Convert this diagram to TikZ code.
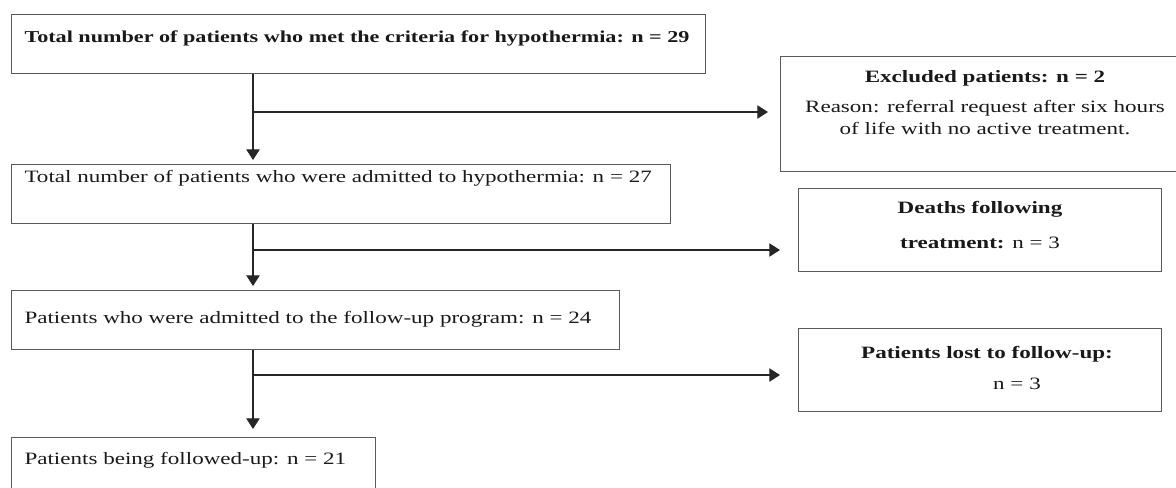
\documentclass[tikz,border=0pt]{standalone}
\usepackage{fontspec}
\setmainfont{Liberation Serif}[FakeStretch=1.33]
\usetikzlibrary{arrows.meta}
\tikzset{every picture/.style={line width=0.75pt}}
\tikzset{
  box/.style={draw=black!65, line width=0.75pt, inner sep=0pt, anchor=north west},
  txt/.style={inner sep=0pt, text=black!90, font=\fontsize{13}{16.5}\selectfont},
  arr/.style={draw=black!85, line width=0.9pt, -{Triangle[length=8pt,width=10pt]}}
}

\begin{document}
\begin{tikzpicture}[x=0.75pt,y=0.75pt,yscale=-1,xscale=1]
%set diagram to 1176 x 487
\clip (0,0) rectangle (1176,487);

%Shape: Rectangle [criteria]
\node[box, minimum width=520.5pt, minimum height=44.25pt] (crit) at (11,14) {};
%Shape: Rectangle [admitted]
\node[box, minimum width=494.25pt, minimum height=44.25pt] (adm) at (11,164) {};
%Shape: Rectangle [follow-up program]
\node[box, minimum width=456pt, minimum height=44.25pt] (fup) at (11,290) {};
%Shape: Rectangle [followed-up]
\node[box, minimum width=273pt, minimum height=52.5pt] (flw) at (11,437) {};
%Shape: Rectangle [excluded]
\node[box, minimum width=315pt, minimum height=86.25pt] (excl) at (780,56) {};
%Shape: Rectangle [deaths]
\node[box, minimum width=272.25pt, minimum height=62.25pt] (death) at (798,188) {};
%Shape: Rectangle [lost]
\node[box, minimum width=272.25pt, minimum height=62.25pt] (lost) at (798,328) {};

%Junctions on the main line
\coordinate (j1) at (253,112);
\coordinate (j2) at (253,250);
\coordinate (j3) at (253,375);

%Straight Lines [main line]
\draw[arr, shorten >=3pt] (crit.south -| j1) -- (adm.north -| j1);
\draw[arr, shorten >=3pt] (adm.south -| j2) -- (fup.north -| j2);
\draw[arr, shorten >=6pt] (fup.south -| j3) -- (flw.north -| j3);
%Straight Lines [side branches]
\draw[arr, shorten >=9pt] (j1) -- (excl.west |- j1);
\draw[arr, shorten >=13.5pt] (j2) -- (death.west |- j2);
\draw[arr, shorten >=13.5pt] (j3) -- (lost.west |- j3);

% Text Node
\node[txt, anchor=base west, font=\fontsize{12.5}{16}\selectfont] (tcrit) at (24,42) {\textbf{Total number of patients who met the criteria for hypothermia: n = 29}};
% Text Node
\node[txt, anchor=base west] (tadm) at (24,182) {Total number of patients who were admitted to hypothermia: n = 27};
% Text Node
\node[txt, anchor=base west] (tfup) at (24,323) {Patients who were admitted to the follow-up program: n = 24};
% Text Node
\node[txt, anchor=base west] (tflw) at (24,464) {Patients being followed-up: n = 21};
% Text Node
\node[txt, anchor=base] (texcl) at (985,82) {\textbf{Excluded patients: n = 2}};
\node[txt, anchor=base] (treas) at (985,112) {Reason: referral request after six hours};
\node[txt, anchor=base] (treas2) at (985,134) {of life with no active treatment.};
% Text Node
\node[txt, anchor=base] (tdeath) at (980,213) {\textbf{Deaths following}};
\node[txt, anchor=base] (tdeath2) at (980,248) {\textbf{treatment:} n = 3};
% Text Node
\node[txt, anchor=base] (tlost) at (987,358) {\textbf{Patients lost to follow-up:}};
\node[txt, anchor=base] (tlost2) at (1017,389) {n = 3};

\end{tikzpicture}
\end{document}
